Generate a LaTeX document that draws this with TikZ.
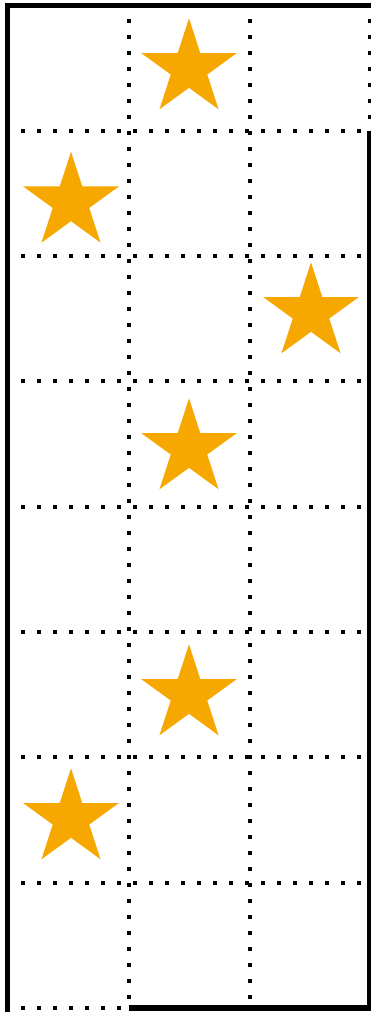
\documentclass[tikz,border=0pt]{standalone}
\usetikzlibrary{calc}
\definecolor{starc}{RGB}{247,168,0}
\tikzset{
  wall/.style={line width=5.5pt, black, line join=miter},
  open/.style={line width=4pt, black, dash pattern=on 4pt off 12pt, dash phase=2.5pt},
  starpic/.pic={\fill[starc] (90:50.3pt) -- (126:19.2pt) -- (162:50.3pt) -- (198:19.2pt) -- (234:50.3pt) -- (270:19.2pt) -- (306:50.3pt) -- (342:19.2pt) -- (18:50.3pt) -- (54:19.2pt) -- cycle;}
}
\begin{document}
\begin{tikzpicture}[x=1pt,y=-1pt]
\useasboundingbox (0,0) rectangle (371,1012);
\fill[white] (0,0) rectangle (371,1012);
% dotted interior grid
\foreach \x in {128.5,249.5} \draw[open] (\x,5.5) -- (\x,1008);
\foreach \i in {1,...,7} \draw[open] (7.5,{5.5+125.3125*\i}) -- (370.5,{5.5+125.3125*\i});
% openings
\draw[open] (369.5,5.5) -- (369.5,130.8);
\draw[open] (7.5,1008) -- (128.5,1008);
% stars
\pic (s1) at (189,68.6) {starpic};
\pic (s2) at (71,202) {starpic};
\pic (s3) at (311,312.6) {starpic};
\pic (s4) at (189,448.6) {starpic};
\pic (s5) at (189,694.6) {starpic};
\pic (s6) at (71,818.6) {starpic};
% solid walls
\draw[wall] (372,5.5) -- (7.5,5.5) -- (7.5,1012);
\draw[wall] (370,130.8) -- (370,1008) -- (128.5,1008);
\end{tikzpicture}
\end{document}
